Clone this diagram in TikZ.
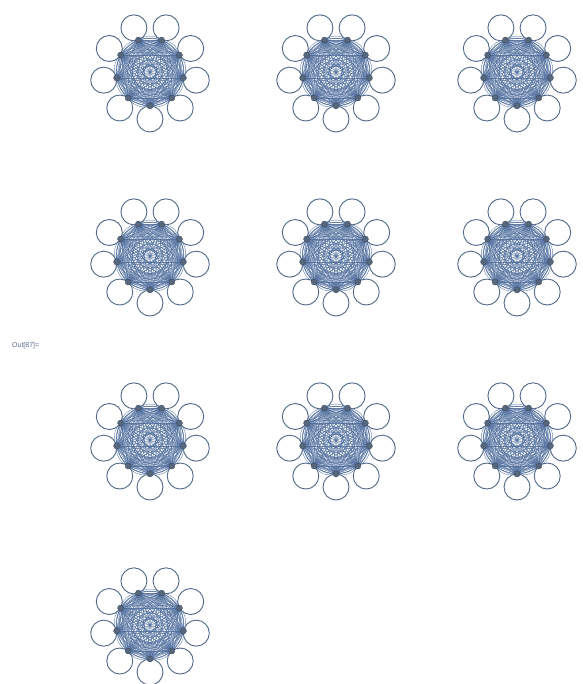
\documentclass[tikz,border=0pt]{standalone}
\usepackage{fontspec}
\setmainfont{Liberation Sans}
\definecolor{edgec}{HTML}{4A6A9A}
\definecolor{loopc}{HTML}{4F6788}
\definecolor{vertc}{HTML}{56677E}
\definecolor{labelc}{HTML}{5A6A8A}
\tikzset{
  vert/.style={circle,inner sep=0pt,minimum size=6pt},
  edgeline/.style={draw=edgec,line width=0.45pt,opacity=0.8},
  loopline/.style={draw=loopc,line width=0.9pt},
  dotfill/.style={fill=vertc,draw=vertc!70!black,line width=0.3pt},
  outlabel/.style={font=\fontsize{7}{8}\selectfont,text=labelc,anchor=west,inner sep=0pt}
}
\newcommand\drawgraph[3]{%
\begin{scope}[shift={(#1,#2)}]
  \foreach \k in {0,...,8}{\node[vert] (#3v\k) at ({90+40*\k}:34) {};}
  \foreach \a in {0,...,8}{\foreach \b in {0,...,8}{%
    \ifnum\a<\b
      \draw[edgeline] (#3v\a.center) -- (#3v\b.center);
      \draw[edgeline] (#3v\a.center) to[bend left=18] (#3v\b.center);
      \draw[edgeline] (#3v\a.center) to[bend right=18] (#3v\b.center);
      \draw[edgeline] (#3v\a.center) to[bend left=36] (#3v\b.center);
      \draw[edgeline] (#3v\a.center) to[bend right=36] (#3v\b.center);
    \fi}}
  \foreach \k in {0,...,8}{\draw[loopline] ({90+40*\k}:47) circle (13);}
  \foreach \k in {0,...,8}{\fill[dotfill] (#3v\k) circle (3);}
\end{scope}}
\begin{document}
\begin{tikzpicture}[x=1pt,y=-1pt]
\useasboundingbox (0,0) rectangle (582,684);
\drawgraph{150}{72}{a}
\drawgraph{336}{72}{b}
\drawgraph{517}{72}{c}
\drawgraph{150}{256}{d}
\drawgraph{336}{256}{e}
\drawgraph{517}{256}{f}
\drawgraph{150}{440}{g}
\drawgraph{336}{440}{h}
\drawgraph{517}{440}{i}
\drawgraph{150}{625}{j}
\node[outlabel] (out) at (12,346) {Out[87]=};
\end{tikzpicture}
\end{document}
